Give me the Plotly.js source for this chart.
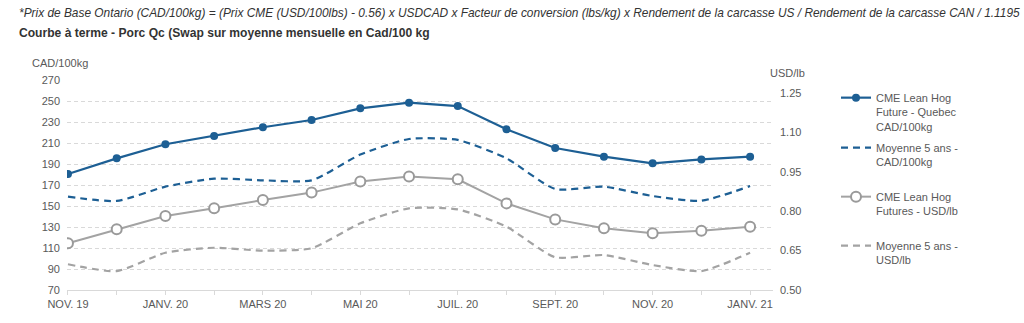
<!DOCTYPE html>
<html><head><meta charset="utf-8">
<script src="https://cdn.plot.ly/plotly-3.0.1.min.js"></script>
<style>html,body{margin:0;padding:0;background:#fff}#chart{width:1024px;height:323px}</style>
</head><body><div id="chart"></div>
<script>
const months = ["NOV. 19","DÉC. 19","JANV. 20","FÉVR. 20","MARS 20","AVR. 20","MAI 20","JUIN 20","JUIL. 20","AOÛT 20","SEPT. 20","OCT. 20","NOV. 20","DÉC. 20","JANV. 21"];
const tickLabels = ["NOV. 19","JANV. 20","MARS 20","MAI 20","JUIL. 20","SEPT. 20","NOV. 20","JANV. 21"];
const cmeQuebecCAD = [180.5,195.4,208.8,216.7,225,231.9,243,248.4,245.2,223,205.2,197,190.6,194.4,197];
const avg5CAD      = [158.9,154.8,168.4,176,174.5,174.4,199,213.8,212.9,195.4,166.2,168.4,159.5,155,169];
const cmeUSD       = [0.678,0.731,0.782,0.811,0.843,0.871,0.913,0.932,0.922,0.830,0.769,0.735,0.716,0.726,0.741];
const avg5USD      = [0.598,0.572,0.642,0.661,0.650,0.659,0.754,0.811,0.807,0.741,0.625,0.633,0.595,0.572,0.642];
const names = ["CME Lean Hog<br>Future - Quebec<br>CAD/100kg","Moyenne 5 ans -<br>CAD/100kg","CME Lean Hog<br>Futures - USD/lb","Moyenne 5 ans -<br>USD/lb"];

const idx = months.map((m,i)=>i);
const tickIdx = tickLabels.map(t=>months.indexOf(t));
const blue = "#1d5f94", gray = "#a3a3a3";

const traces = [
  {x:idx,y:cmeQuebecCAD,name:names[0],type:"scatter",mode:"lines+markers",line:{color:blue,width:2.2},marker:{color:blue,size:8},yaxis:"y",legend:"legend"},
  {x:idx,y:avg5CAD,name:names[1],type:"scatter",mode:"lines",line:{color:blue,width:2.2,dash:"7px,5px",shape:"spline",smoothing:0.6},yaxis:"y",legend:"legend2"},
  {x:idx,y:cmeUSD,name:names[2],type:"scatter",mode:"lines+markers",line:{color:gray,width:2},marker:{color:"#fff",size:10,line:{color:"#9a9a9a",width:2}},yaxis:"y2",legend:"legend3"},
  {x:idx,y:avg5USD,name:names[3],type:"scatter",mode:"lines",line:{color:gray,width:2.2,dash:"7px,5px",shape:"spline",smoothing:0.6},yaxis:"y2",legend:"legend4"}
];
const font = "Liberation Sans, Arial, sans-serif";
function leg(topPx){
  return {x:(836-67)/706,xanchor:"left",y:(290-topPx)/210,yanchor:"top",valign:"top",
          font:{family:font,size:11,color:"#595959"},itemwidth:30,bgcolor:"rgba(0,0,0,0)"};
}
const layout = {
  width:1024,height:323,
  margin:{l:67,r:251,t:80,b:33},
  paper_bgcolor:"#fff",plot_bgcolor:"#fff",
  font:{family:font,size:11,color:"#595959"},
  showlegend:true,
  legend:leg(84), legend2:leg(134), legend3:leg(183), legend4:leg(232),
  xaxis:{range:[-0.02,14.47],tickmode:"array",tickvals:tickIdx,ticktext:tickLabels,showgrid:false,zeroline:false,
         showline:true,linecolor:"#d9d9d9",linewidth:1,ticks:"outside",ticklen:4,tickcolor:"#d9d9d9",
         minor:{tickmode:"linear",tick0:0,dtick:1,ticks:"outside",ticklen:4,tickcolor:"#d9d9d9"},
         tickfont:{family:font,size:11,color:"#595959"}},
  yaxis:{range:[70,270],dtick:20,tick0:70,showgrid:true,gridcolor:"#d9d9d9",griddash:"4px,3px",gridwidth:1,zeroline:false,
         showline:false,ticks:"",ticklabelstandoff:6,tickfont:{family:font,size:11,color:"#595959"}},
  yaxis2:{range:[0.5,1.3],overlaying:"y",side:"right",tickmode:"array",tickvals:[0.5,0.65,0.8,0.95,1.1,1.25],
          ticktext:["0.50","0.65","0.80","0.95","1.10","1.25"],showgrid:false,zeroline:false,showline:false,ticks:"",
          ticklabelstandoff:6,tickfont:{family:font,size:11,color:"#595959"}},
  annotations:[
    {xref:"paper",yref:"paper",x:(17-67)/706,y:(323-33-13)/210,xanchor:"left",yanchor:"middle",showarrow:false,
     text:"<i>*Prix de Base Ontario (CAD/100kg) = (Prix CME (USD/100lbs) - 0.56) x USDCAD x Facteur de conversion (lbs/kg) x Rendement de la carcasse US / Rendement de la carcasse CAN / 1.1195</i>",
     font:{family:font,size:11.9,color:"#333"}},
    {xref:"paper",yref:"paper",x:(17-67)/706,y:(323-33-33)/210,xanchor:"left",yanchor:"middle",showarrow:false,
     text:"<b>Courbe à terme - Porc Qc (Swap sur moyenne mensuelle en Cad/100 kg</b>",
     font:{family:font,size:12.1,color:"#333"}},
    {xref:"paper",yref:"paper",x:-37/706,y:(323-33-63)/210,xanchor:"left",yanchor:"middle",showarrow:false,
     text:"CAD/100kg",font:{family:font,size:11,color:"#595959"}},
    {xref:"paper",yref:"paper",x:(768-67)/706,y:(323-33-73)/210,xanchor:"left",yanchor:"middle",showarrow:false,
     text:"USD/lb",font:{family:font,size:11,color:"#595959"}}
  ]
};
Plotly.newPlot("chart",traces,layout,{displayModeBar:false,staticPlot:true});
</script></body></html>
